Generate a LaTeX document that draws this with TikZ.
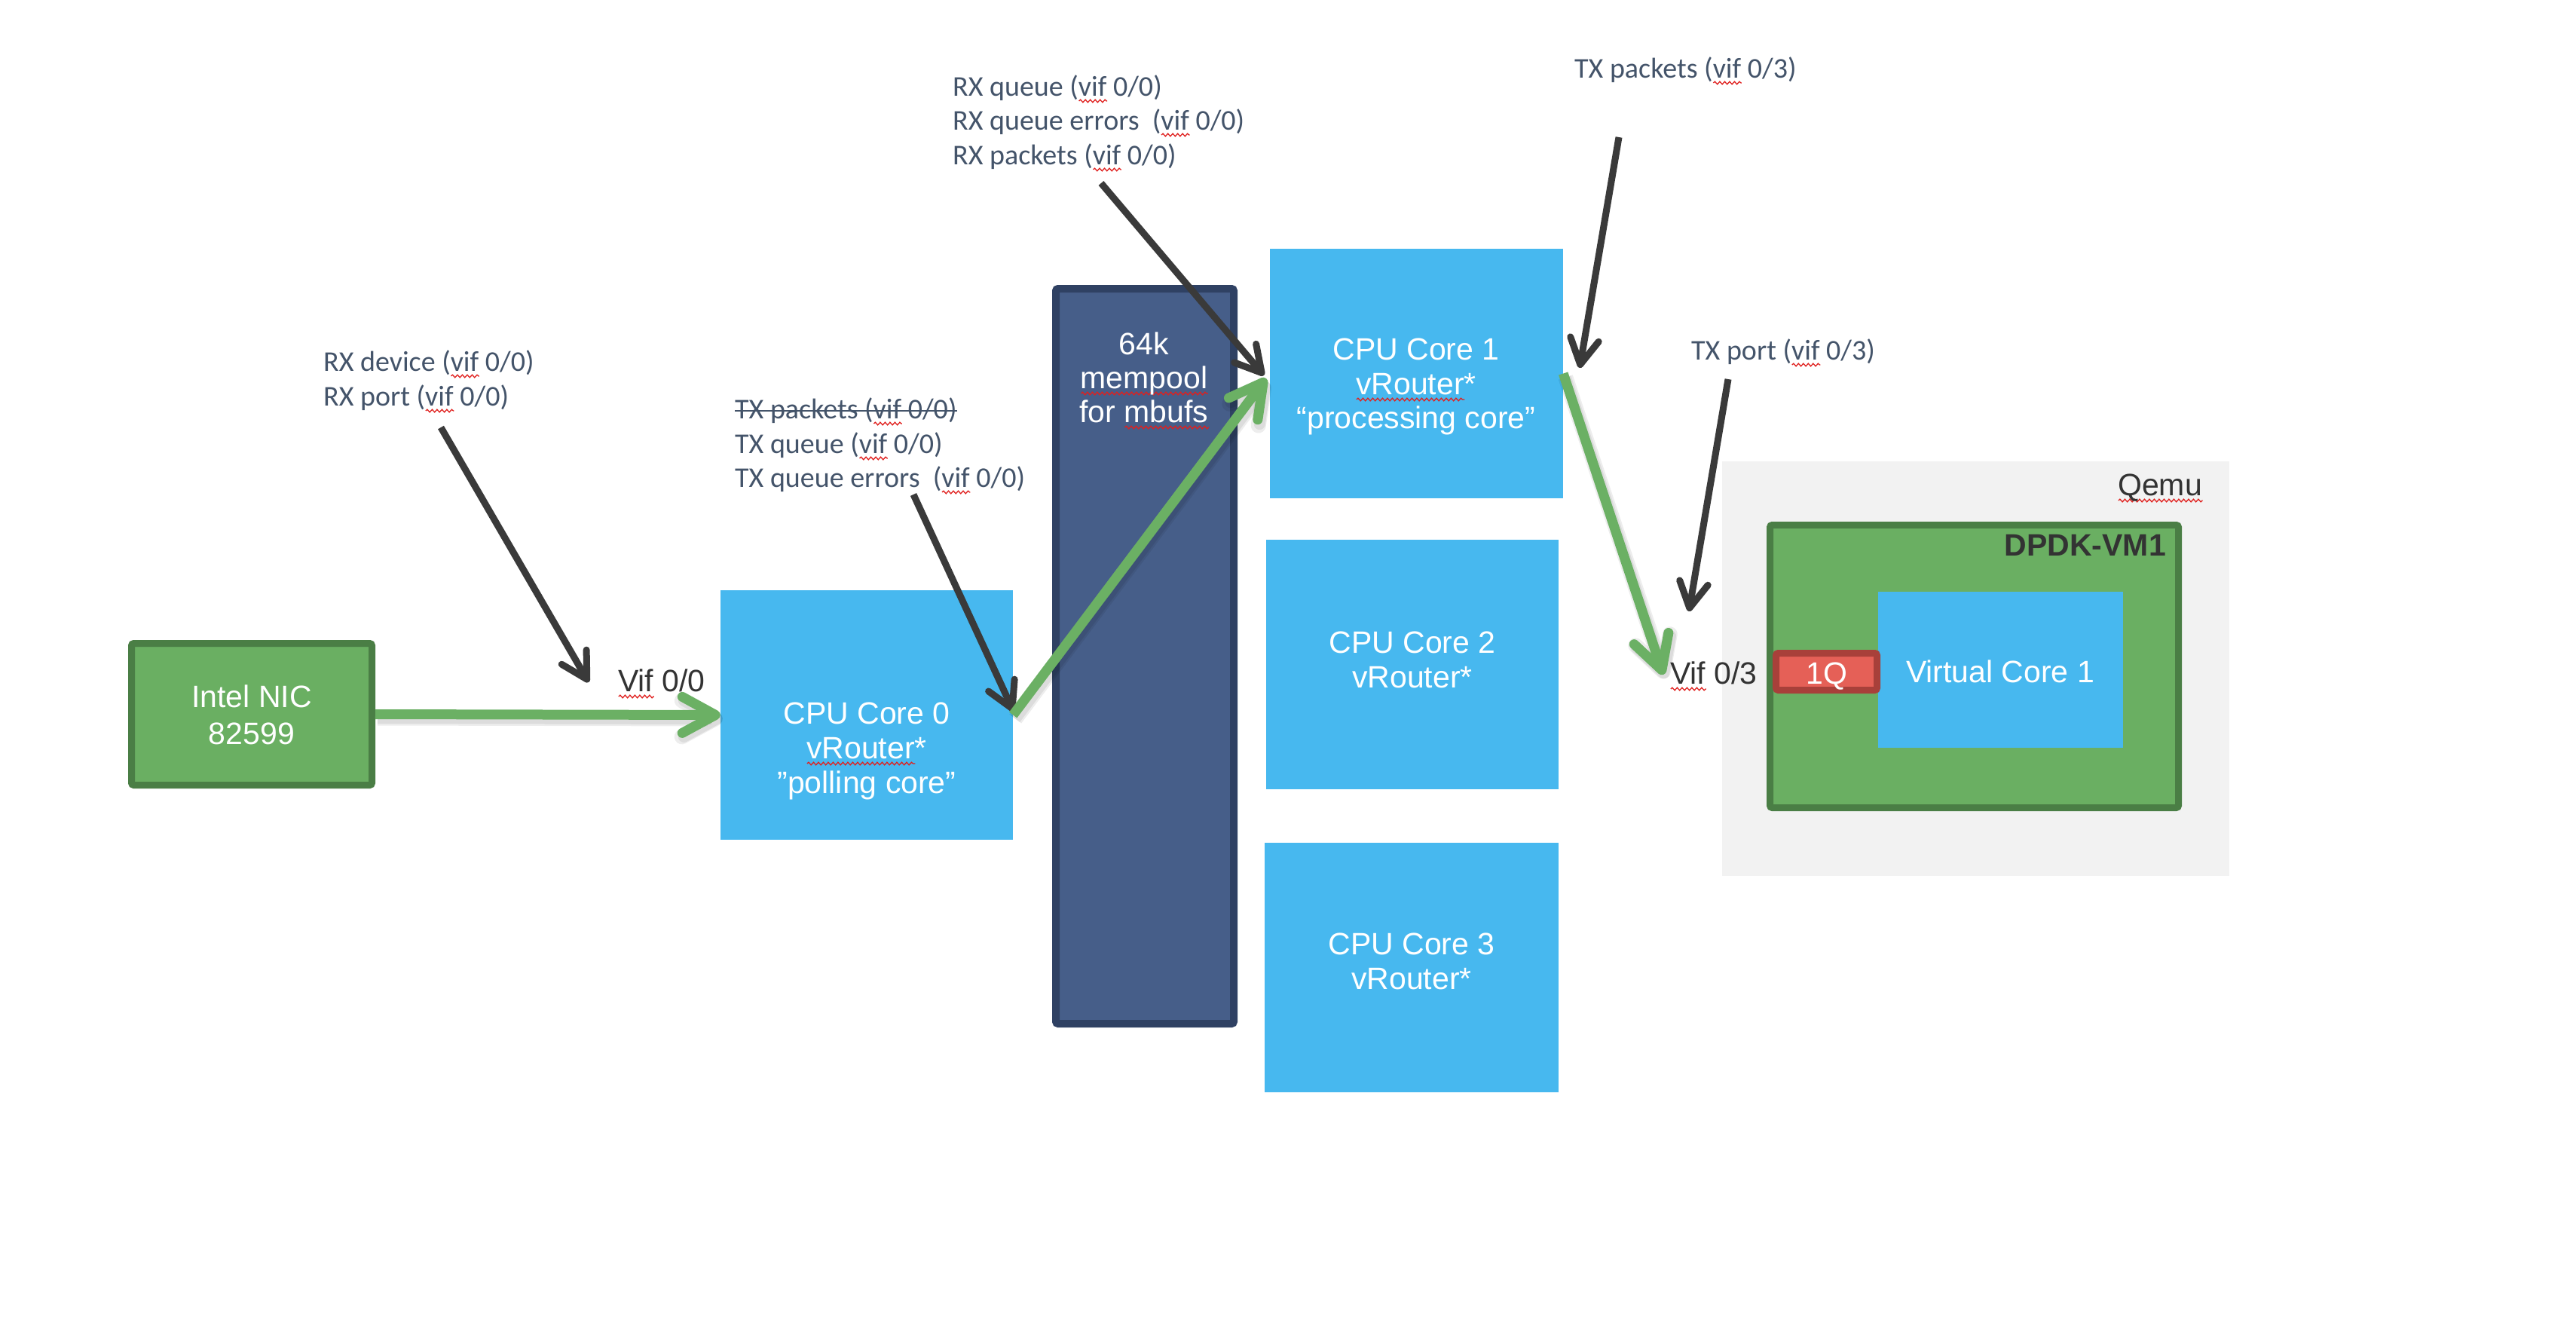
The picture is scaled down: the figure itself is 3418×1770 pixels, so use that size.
\documentclass[tikz,border=0pt]{standalone}
\usepackage{fontspec}
\setmainfont{Liberation Sans}
\newfontfamily\carlito{Carlito}
\usetikzlibrary{arrows.meta,calc,decorations.pathmorphing}
\definecolor{nicgreen}{HTML}{6AAF62}
\definecolor{nicborder}{HTML}{4A7E45}
\definecolor{coreblue}{HTML}{47B8EF}
\definecolor{memfill}{HTML}{465E89}
\definecolor{memborder}{HTML}{2F4163}
\definecolor{qred}{HTML}{E56057}
\definecolor{qredborder}{HTML}{A8403A}
\definecolor{qemugray}{HTML}{F2F2F2}
\definecolor{darr}{HTML}{3A3A3A}
\definecolor{garr}{HTML}{6BB064}
\definecolor{lblc}{HTML}{44546A}
\definecolor{dtext}{HTML}{333333}
\definecolor{squig}{HTML}{E0201E}
\newsavebox\sqbox
\newcommand\sq[1]{\sbox\sqbox{#1}\rlap{\tikz[baseline=0pt]{\draw[draw=squig, line width=1.3pt, decorate,
  decoration={snake,amplitude=1.8pt,segment length=6.5pt}] (0pt,-7pt) -- (\the\wd\sqbox,-7pt);}}\usebox\sqbox}
\newcommand\lblfont{\carlito\fontsize{38}{46}\selectfont}
\newcommand\boxfont{\fontsize{41}{46}\selectfont}
\begin{document}
\begin{tikzpicture}[x=1pt,y=-1pt,
  corebox/.style={fill=coreblue, draw=none, inner sep=0pt, minimum width=#1, minimum height=331pt},
  lbl/.style={font=\lblfont, text=lblc, inner sep=0pt, anchor=base west},
  btxt/.style={font=\boxfont, text=white, inner sep=0pt, anchor=base},
  dtxt/.style={font=\boxfont, text=dtext, inner sep=0pt, anchor=base west},
  barrow/.style={draw=darr, line width=9pt, -{Straight Barb[length=34pt,width=38pt,round]}},
  garrow/.style={draw=garr, line width=13pt, -{Straight Barb[length=44pt,width=48pt,round]}},
  gshadow/.style={draw=black, draw opacity=0.07, line width=#1, -{Straight Barb[length=44pt,width=48pt,round]},
    transform canvas={shift={(3pt,-5pt)}}},
  gshadow/.default=20pt
]
\useasboundingbox (0,0) rectangle (3418,1770);
\fill[white] (0,0) rectangle (3418,1770);

% ---------- boxes ----------
\node[fill=nicgreen, draw=nicborder, line width=9pt, rounded corners=3pt, inner sep=0pt,
      minimum width=319pt, minimum height=188pt] (nic) at (334,947.5) {};
\node[corebox=388pt] (core0) at (1150,948.5) {};
\node[fill=memfill, draw=memborder, line width=10pt, rounded corners=3pt, inner sep=0pt,
      minimum width=236pt, minimum height=975pt] (mem) at (1519,870.5) {};
\node[corebox=389pt] (core1) at (1879.5,495.5) {};
\node[corebox=388pt] (core2) at (1874,881.5) {};
\node[corebox=390pt] (core3) at (1873,1283.5) {};
\node[fill=qemugray, draw=none, inner sep=0pt, minimum width=673pt, minimum height=550pt] (qemu) at (2621.5,887) {};
\node[fill=nicgreen, draw=nicborder, line width=9pt, rounded corners=3pt, inner sep=0pt,
      minimum width=542pt, minimum height=375pt] (vm) at (2619.5,884) {};
\node[fill=coreblue, draw=none, inner sep=0pt, minimum width=325pt, minimum height=207pt] (vcore) at (2654.5,888.5) {};
\node[fill=qred, draw=qredborder, line width=9pt, rounded corners=3pt, inner sep=0pt,
      minimum width=134pt, minimum height=49pt] (q1) at (2423.5,891) {};

% ---------- box texts ----------
\node[btxt] (nicA) at (334,938) {Intel NIC};
\node[btxt] (nicB) at (334,987) {82599};
\node[btxt] (c0A) at (1150,960) {CPU Core 0};
\node[btxt] (c0B) at (1150,1006) {\sq{vRouter}*};
\node[btxt] (c0C) at (1150,1052) {”polling core”};
\node[btxt] (memA) at (1518,470) {64k};
\node[btxt] (memB) at (1518,515) {\sq{mempool}};
\node[btxt] (memC) at (1518,560) {for \sq{mbufs}};
\node[btxt] (c1A) at (1879,477) {CPU Core 1};
\node[btxt] (c1B) at (1879,523) {\sq{vRouter}*};
\node[btxt] (c1C) at (1879,568) {“processing core”};
\node[btxt] (c2A) at (1874,866) {CPU Core 2};
\node[btxt] (c2B) at (1874,912) {vRouter*};
\node[btxt] (c3A) at (1873,1266) {CPU Core 3};
\node[btxt] (c3B) at (1873,1312) {vRouter*};
\node[btxt] (vcA) at (2654,905) {Virtual Core 1};
\node[btxt] (q1A) at (2424,907) {1Q};
\node[dtxt] (qemuT) at (2810,657) {\sq{Qemu}};
\node[dtxt, font=\boxfont\bfseries, anchor=base east] (vmT) at (2874,737) {DPDK-VM1};
\node[dtxt] (vif00) at (820,917) {\sq{Vif} 0/0};
\node[dtxt] (vif03) at (2216,907) {\sq{Vif} 0/3};

% ---------- counter labels ----------
\node[lbl] (rxdev) at (429,492) {RX device (\sq{vif} 0/0)};
\node[lbl] (rxport) at (429,538) {RX port (\sq{vif} 0/0)};
\node[lbl] (txp00) at (975,555) {TX packets (\sq{vif} 0/0)};
\node[lbl] (txq00) at (975,601) {TX queue (\sq{vif} 0/0)};
\node[lbl] (txqe00) at (975,646) {TX queue errors\ \ (\sq{vif} 0/0)};
\node[lbl] (rxq) at (1264,127) {RX queue (\sq{vif} 0/0)};
\node[lbl] (rxqe) at (1264,172) {RX queue errors\ \ (\sq{vif} 0/0)};
\node[lbl] (rxp) at (1264,218) {RX packets (\sq{vif} 0/0)};
\node[lbl] (txp03) at (2089,103) {TX packets (\sq{vif} 0/3)};
\node[lbl] (txport03) at (2244,477) {TX port (\sq{vif} 0/3)};
\draw[draw=lblc, line width=2pt] ([yshift=10pt]txp00.base west) -- ([yshift=10pt]txp00.base east);

% ---------- pointer coordinates ----------
\coordinate (b1s) at (585,567);   \coordinate (b1t) at (781,905);
\coordinate (b2s) at (1212,656);  \coordinate (b2t) at (1345,944);
\coordinate (b3s) at (1461,243);  \coordinate (b3t) at (1677,498);
\coordinate (b4s) at (2148,182);  \coordinate (b4t) at (2096,488);
\coordinate (b5s) at (2293,503);  \coordinate (b5t) at (2241,811);
\coordinate (g2t) at (1680,502);
\coordinate (g3t) at (2207,895);

% ---------- black pointer arrows ----------
\draw[barrow] (b1s) -- (b1t);
\draw[barrow] (b2s) -- (b2t);
\draw[barrow] (b3s) -- (b3t);
\draw[barrow] (b4s) -- (b4t);
\draw[barrow] (b5s) -- (b5t);

% ---------- green packet path ----------
\draw[gshadow] (nic.east) -- (core0.west);
\draw[gshadow=15pt] (nic.east) -- (core0.west);
\draw[gshadow] (core0.east) -- (g2t);
\draw[gshadow=15pt] (core0.east) -- (g2t);
\draw[gshadow] (core1.east) -- (g3t);
\draw[gshadow=15pt] (core1.east) -- (g3t);
\draw[garrow] (nic.east) -- (core0.west);
\draw[garrow] (core0.east) -- (g2t);
\draw[garrow] (core1.east) -- (g3t);
\end{tikzpicture}
\end{document}
